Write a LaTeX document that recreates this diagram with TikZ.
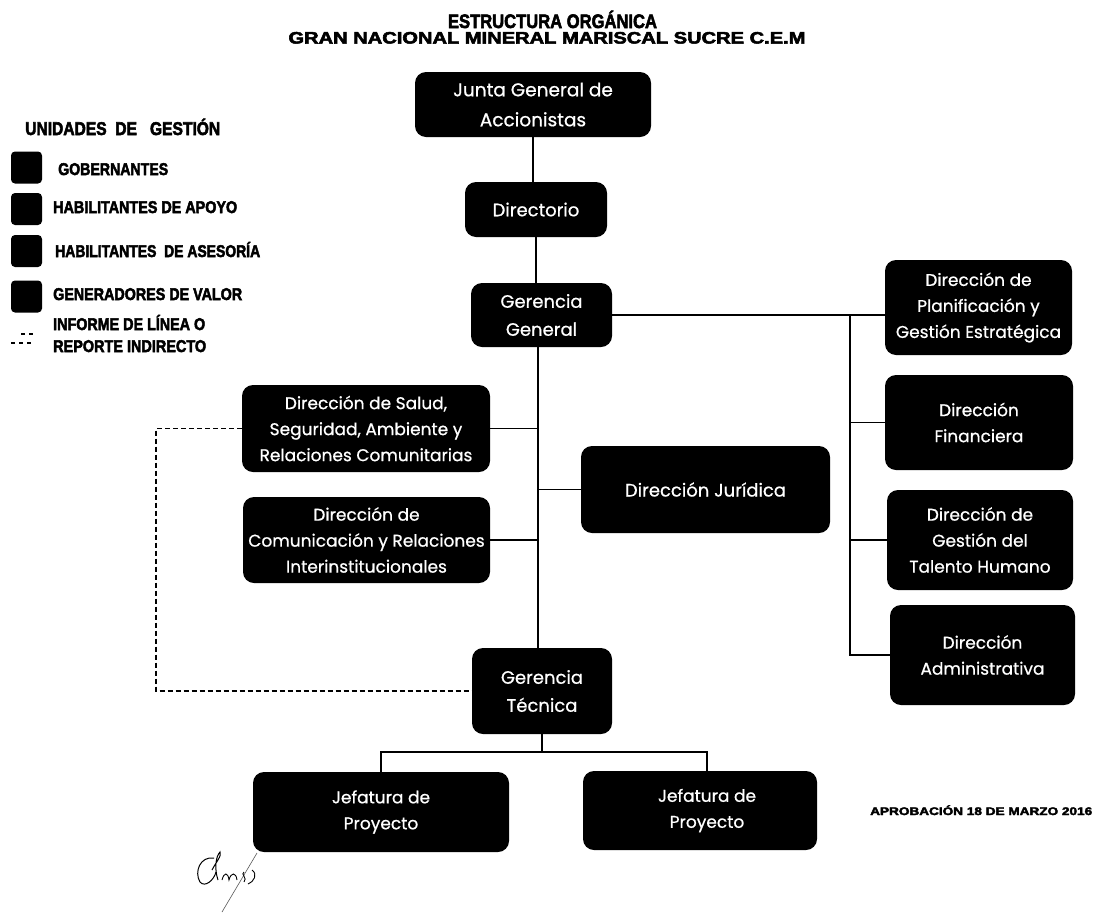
\documentclass[tikz,border=0pt]{standalone}
\usepackage{fontspec}
\usepackage{graphicx}
\setmainfont{Poppins}
\newfontfamily\boxfont[FakeBold=0.7]{Poppins}
\newfontfamily\condfont[BoldFeatures={FakeBold=3}]{Liberation Sans}
\newcommand\fitw[2]{\resizebox{#1pt}{\height}{#2}}
\begin{document}
\begin{tikzpicture}[x=1pt,y=-1pt,
  box/.style={fill=black, rounded corners=11pt, text=white, align=center, inner sep=0pt,
    font=\boxfont\fontsize{17}{26}\selectfont},
  bigbox/.style={box, font=\boxfont\fontsize{18.5}{30}\selectfont},
  midbox/.style={box, font=\boxfont\fontsize{18}{28}\selectfont},
  legsq/.style={fill=black, rounded corners=4pt, minimum width=31pt, minimum height=32pt, inner sep=0pt},
  legtxt/.style={anchor=base west, inner sep=0pt, font=\condfont\bfseries\fontsize{17}{16}\selectfont},
  ttl/.style={anchor=base, inner sep=0pt, font=\condfont\bfseries\fontsize{19.5}{18}\selectfont},
  conn/.style={draw=black, line width=1.2pt},
  rep/.style={draw=black, line width=1.2pt, dash pattern=on 5pt off 3pt}
]
\useasboundingbox[fill=white] (0,0) rectangle (1094,916);

% titles
\node[ttl] (title1) at (552.5,28) {\fitw{209}{ESTRUCTURA ORGÁNICA}};
\node[ttl, font=\condfont\bfseries\fontsize{16.5}{16}\selectfont] (title2) at (547,43.5) {\fitw{517}{GRAN NACIONAL MINERAL MARISCAL SUCRE C.E.M}};

% legend
\node[legtxt, font=\condfont\bfseries\fontsize{18.5}{18}\selectfont] (legtitle) at (25,135) {\fitw{195}{UNIDADES\ \ DE\ \ \ GESTIÓN}};
\node[legsq] (sq1) at (26.5,167.5) {};
\node[legsq] (sq2) at (26.5,209) {};
\node[legsq] (sq3) at (26.5,251) {};
\node[legsq] (sq4) at (26.5,296.5) {};
\node[legtxt] (lt1) at (58,175) {\fitw{110}{GOBERNANTES}};
\node[legtxt] (lt2) at (53,213) {\fitw{184}{HABILITANTES DE APOYO}};
\node[legtxt] (lt3) at (55,257) {\fitw{205}{HABILITANTES\ \ DE ASESORÍA}};
\node[legtxt] (lt4) at (53,300) {\fitw{189}{GENERADORES DE VALOR}};
\node[legtxt] (lt5) at (53,330) {\fitw{152}{INFORME DE LÍNEA O}};
\node[legtxt] (lt6) at (53,352) {\fitw{153}{REPORTE INDIRECTO}};
\coordinate (ld1) at (11,343);
\coordinate (ld2) at (33,343);
\coordinate (ld3) at (21,334);
\coordinate (ld4) at (33,334);
\draw[line width=1.3pt, dash pattern=on 4pt off 4pt] (ld1) -- (ld2);
\draw[line width=1.3pt, dash pattern=on 4pt off 4pt] (ld3) -- (ld4);

% approval
\node[legtxt, font=\condfont\bfseries\fontsize{11}{11}\selectfont] (aprob) at (870,815) {\fitw{222}{APROBACIÓN 18 DE MARZO 2016}};

% boxes
\node[bigbox, minimum width=236, minimum height=65] (junta) at (533,104.5) {Junta General de\\Accionistas};
\node[midbox, minimum width=142, minimum height=55] (dir) at (536,209.5) {Directorio};
\node[midbox, minimum width=141, minimum height=64] (gg) at (541.5,315) {Gerencia\\General};
\node[box, minimum width=248, minimum height=87] (salud) at (366,428.5) {Dirección de Salud,\\Seguridad, Ambiente y\\Relaciones Comunitarias};
\node[box, minimum width=247, minimum height=86] (comu) at (366.5,540) {Dirección de\\Comunicación y Relaciones\\Interinstitucionales};
\node[box, font=\boxfont\fontsize{18}{26}\selectfont, minimum width=249, minimum height=87] (jur) at (705.5,489.5) {Dirección Jurídica};
\node[midbox, minimum width=140, minimum height=86] (gt) at (542,691) {Gerencia\\Técnica};
\node[box, minimum width=256, minimum height=80] (jef1) at (381,812) {Jefatura de\\Proyecto};
\node[box, minimum width=234, minimum height=79] (jef2) at (700,810.5) {\hspace*{14pt}Jefatura de\\\hspace*{14pt}Proyecto};
\node[box, minimum width=187, minimum height=95] (plan) at (978.5,307.5) {Dirección de\\Planificación y\\Gestión Estratégica};
\node[box, minimum width=188, minimum height=95] (fin) at (979,422.5) {Dirección\\Financiera};
\node[box, minimum width=186, minimum height=100] (tal) at (980,540) {Dirección de\\Gestión del\\Talento Humano};
\node[box, minimum width=185, minimum height=100] (adm) at (982.5,655) {Dirección\\Administrativa};

% helper coordinates
\coordinate (spx) at (538,0);
\coordinate (rpx) at (850,0);
\coordinate (lpx) at (156,0);
\coordinate (bar) at (0,752);

% connectors
\draw[conn] (junta.south) -- (junta.south |- dir.north);
\draw[conn] (dir.south) -- (dir.south |- gg.north);
\draw[conn] (gg.south -| spx) -- (gt.north -| spx);
\draw[conn] (salud.east) -- (salud.east -| spx);
\draw[conn] (comu.east) -- (comu.east -| spx);
\draw[conn] (jur.west) -- (jur.west -| spx);
\draw[conn] (gg.east) -- (plan.west |- gg.east);
\draw[conn] (gg.east -| rpx) -- (adm.west -| rpx) -- (adm.west);
\draw[conn] (fin.west) -- (fin.west -| rpx);
\draw[conn] (tal.west) -- (tal.west -| rpx);
\draw[conn] (gt.south) -- (gt.south |- bar);
\draw[conn] (jef1.north) -- (jef1.north |- bar) -| ([xshift=7pt]jef2.north);
\draw[rep] (salud.west) -- (salud.west -| lpx) -- (gt.west -| lpx) -- (gt.west);

% signature scribble
\draw[line width=0.6pt, gray!70!black] (257,853) -- (222,912);
\draw[line width=1pt] (214,858) .. controls (200,856) and (194,872) .. (200,882) .. controls (205,888) and (214,880) .. (216,872);
\draw[line width=1pt] (212,870) .. controls (216,862) and (222,856) .. (220,852) .. controls (216,856) and (214,868) .. (218,880);
\draw[line width=0.9pt] (222,880) .. controls (224,872) and (228,872) .. (229,880) .. controls (231,872) and (236,872) .. (237,880);
\draw[line width=0.9pt] (244,872) .. controls (240,874) and (248,878) .. (244,882);
\draw[line width=0.9pt] (252,870) .. controls (258,874) and (254,882) .. (248,884);
\end{tikzpicture}
\end{document}
